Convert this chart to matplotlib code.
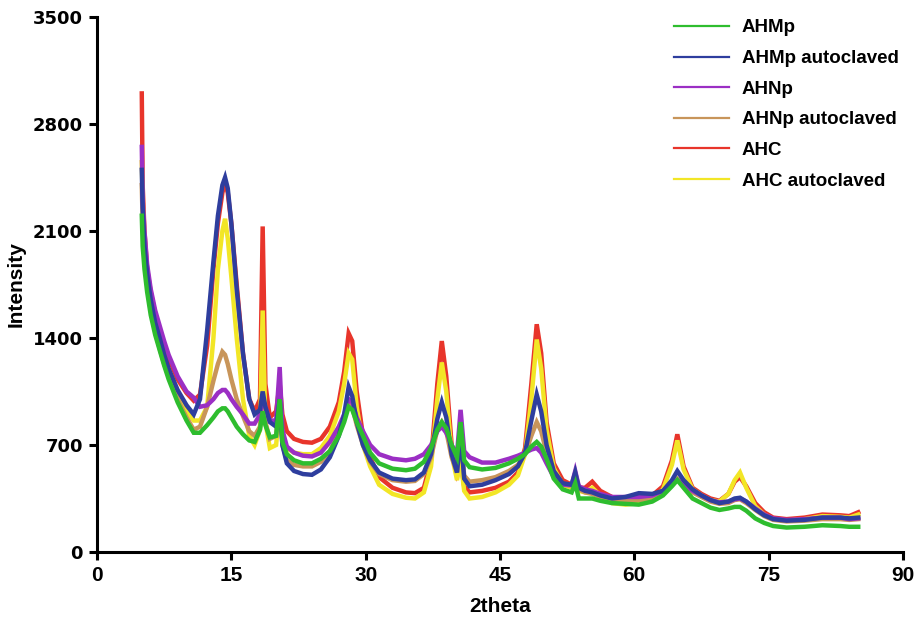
import matplotlib
matplotlib.use("Agg")
import matplotlib.pyplot as plt
from matplotlib.lines import Line2D

two_theta = [5.0, 5.1, 5.3, 5.6, 6.0, 6.5, 7.0, 7.5, 8.0, 9.0, 10.0, 10.8, 11.5, 12.3, 13.0,
             13.5, 14.0, 14.3, 14.6, 15.0, 15.6, 16.3, 17.0, 17.6, 18.2, 18.5, 18.8, 19.3, 20.0,
             20.4, 20.7, 21.2, 22.0, 23.0, 24.0, 25.0, 26.0, 27.0, 27.6, 28.1, 28.5, 29.0, 29.7,
             30.5, 31.5, 33.0, 34.5, 35.5, 36.5, 37.3, 38.0, 38.5, 39.0, 39.6, 40.2, 40.6, 41.0,
             41.6, 43.0, 44.5, 46.0, 47.0, 47.8, 48.5, 49.1, 49.6, 50.2, 51.0, 52.0, 53.0, 53.4,
             53.8, 54.5, 55.3, 56.2, 57.5, 59.0, 60.5, 62.0, 63.2, 64.2, 64.8, 65.5, 66.5, 67.5,
             68.5, 69.5, 70.5, 71.2, 71.8, 72.5, 73.5, 74.5, 75.5, 77.0, 79.0, 81.0, 83.0, 84.0, 85.0]

ahc = [3000, 2400, 2100, 1850, 1700, 1560, 1450, 1350, 1270, 1130, 1040, 990, 1030, 1350, 1850,
       2150, 2350, 2420, 2350, 2150, 1750, 1300, 1000, 920, 1000, 2130, 1100, 880, 920,
       1100, 900, 790, 740, 720, 715, 740, 820, 980, 1180, 1430, 1380, 1050, 760,
       620, 490, 420, 390, 385, 420, 600, 1100, 1380, 1150, 700, 520, 600, 430,
       390, 400, 420, 460, 520, 680, 1100, 1490, 1300, 850, 580, 470, 440, 500,
       420, 420, 460, 400, 360, 340, 350, 370, 430, 600, 770, 560, 420, 380,
       350, 335, 380, 460, 490, 430, 320, 260, 225, 215, 225, 245, 240, 235, 260]

ahc_auto = [2550, 2300, 2050, 1800, 1620, 1480, 1370, 1270, 1180, 1030, 920, 860, 860, 950, 1400,
            1850, 2100, 2180, 2050, 1800, 1400, 1000, 760, 700, 800, 1580, 850, 680, 700,
            950, 760, 680, 650, 640, 640, 680, 760, 920, 1100, 1300, 1260, 950, 700,
            560, 440, 380, 355, 350, 390, 560, 1000, 1240, 1050, 640, 470, 600, 400,
            350, 360, 390, 440, 500, 640, 1000, 1390, 1200, 800, 550, 440, 420, 480,
            400, 390, 420, 370, 320, 310, 320, 345, 410, 570, 730, 540, 410, 370,
            340, 330, 380, 470, 520, 420, 300, 245, 215, 205, 215, 235, 230, 225, 245]

ahmp_auto = [2500, 2250, 2000, 1820, 1650, 1500, 1400, 1290, 1200, 1060, 960, 900, 1000, 1450, 1900,
             2200, 2400, 2450, 2380, 2150, 1720, 1300, 1000, 900, 930, 1050, 950, 850, 820,
             1000, 700, 580, 530, 510, 505, 540, 620, 760, 900, 1080, 1020, 850, 700,
             600, 520, 480, 470, 475, 520, 640, 870, 980, 880, 640, 520, 780, 480,
             430, 440, 470, 510, 560, 650, 860, 1030, 920, 700, 530, 450, 440, 520,
             420, 400, 390, 370, 350, 360, 385, 380, 400, 470, 530, 470, 410, 370,
             340, 320, 330, 350, 355, 330, 280, 240, 215, 205, 210, 225, 225, 220, 225]

ahnp = [2650, 2300, 2100, 1880, 1720, 1580, 1480, 1380, 1290, 1150, 1050, 1010, 950, 960, 1000,
        1040, 1060, 1060, 1040, 1000, 950, 900, 840, 840, 900, 1000, 950, 860, 860,
        1210, 800, 690, 650, 630, 625, 650, 720, 820, 900, 1000, 980, 880, 790,
        700, 640, 610, 600, 610, 640, 700, 790, 820, 780, 700, 640, 930, 660,
        620, 585, 585, 610, 630, 650, 670, 680, 650, 580, 490, 440, 440, 530,
        430, 410, 400, 380, 360, 360, 360, 370, 400, 440, 470, 440, 400, 370,
        340, 325, 330, 345, 350, 330, 285, 245, 220, 210, 215, 225, 225, 215, 220]

ahnp_auto = [2400, 2150, 1950, 1750, 1580, 1440, 1330, 1230, 1150, 1000, 880, 800, 820, 950, 1120,
             1230, 1310, 1290, 1230, 1130, 1000, 890, 790, 760, 820, 1000, 850, 740, 760,
             1000, 700, 600, 570, 560, 560, 590, 660, 780, 880, 980, 950, 830, 700,
             590, 510, 470, 460, 465, 510, 620, 800, 850, 790, 620, 520, 760, 500,
             460, 470, 490, 530, 570, 640, 760, 850, 790, 650, 500, 440, 430, 500,
             410, 390, 380, 360, 340, 335, 340, 350, 380, 440, 480, 440, 390, 360,
             330, 315, 320, 340, 345, 320, 275, 235, 210, 200, 205, 215, 215, 210, 215]

ahmp = [2200, 2000, 1850, 1700, 1550, 1420, 1320, 1220, 1130, 980, 860, 780, 780, 830, 880,
        920, 940, 940, 920, 880, 820, 770, 730, 720, 800, 920, 830, 750, 760,
        1000, 720, 640, 600, 580, 580, 610, 660, 760, 850, 950, 930, 850, 760,
        650, 580, 545, 535, 545, 590, 680, 800, 850, 810, 700, 620, 850, 600,
        555, 540, 550, 580, 610, 640, 690, 720, 690, 610, 480, 410, 390, 450,
        350, 350, 350, 335, 320, 315, 310, 330, 370, 430, 470, 420, 350, 320,
        290, 275, 285, 295, 295, 270, 220, 190, 170, 160, 165, 175, 170, 165, 165]

labels = ["AHMp", "AHMp autoclaved", "AHNp", "AHNp autoclaved", "AHC", "AHC autoclaved"]
colors = ["#2ebd2e", "#2e3e9e", "#9b2fc4", "#c8955a", "#e8352b", "#f2e626"]
x_ticks = [0, 15, 30, 45, 60, 75, 90]
y_ticks = [0, 700, 1400, 2100, 2800, 3500]

series = {
    "AHMp": ahmp,
    "AHMp autoclaved": ahmp_auto,
    "AHNp": ahnp,
    "AHNp autoclaved": ahnp_auto,
    "AHC": ahc,
    "AHC autoclaved": ahc_auto,
}
color_of = dict(zip(labels, colors))

fig = plt.figure(figsize=(9.2, 6.27), dpi=100)
ax = fig.add_axes([97/920, 1-552/627, (903-97)/920, (552-17)/627])

draw_order = ["AHC", "AHC autoclaved", "AHNp autoclaved", "AHNp", "AHMp autoclaved", "AHMp"]
for name in draw_order:
    ax.plot(two_theta, series[name], color=color_of[name], lw=3.2, solid_joinstyle="miter")

ax.set_xlim(0, 90)
ax.set_ylim(0, 3500)
ax.set_xticks(x_ticks)
ax.set_yticks(y_ticks)
for s in ["top", "right"]:
    ax.spines[s].set_visible(False)
for s in ["left", "bottom"]:
    ax.spines[s].set_linewidth(2.2)
ax.tick_params(axis="both", direction="out", length=6, width=2.2, pad=4)
for t in ax.get_yticklabels():
    t.set_fontfamily("DejaVu Sans")
    t.set_fontweight("bold")
    t.set_fontsize(13)
for t in ax.get_xticklabels():
    t.set_fontfamily("Liberation Sans")
    t.set_fontweight("bold")
    t.set_fontsize(15)

ax.set_xlabel("2theta", fontfamily="Liberation Sans", fontweight="bold", fontsize=15, labelpad=9)
ax.set_ylabel("Intensity", fontfamily="Liberation Sans", fontweight="bold", fontsize=15, labelpad=5)

handles = [Line2D([0], [0], color=c, lw=1.6) for c in colors]
leg = fig.legend(handles, labels, loc="upper left", bbox_to_anchor=(665/920, 1-10/627),
                 frameon=False, handlelength=2.9, handletextpad=0.7, labelspacing=0.72,
                 borderpad=0, prop={"family": "Liberation Sans", "weight": "bold", "size": 13.5})

fig.savefig("out.png", dpi=100)
